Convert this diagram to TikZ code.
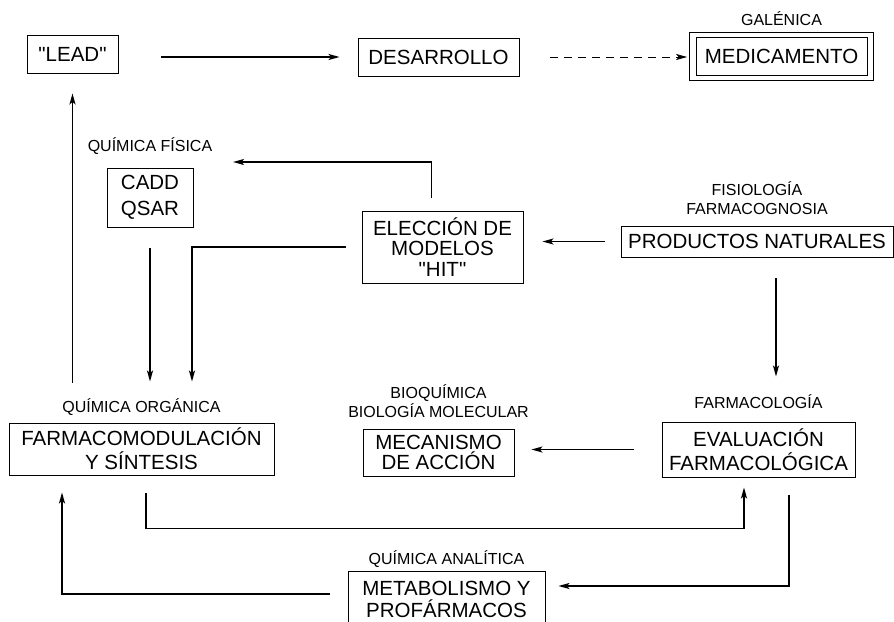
\documentclass[tikz,border=0pt]{standalone}
\usepackage{fontspec}
\setmainfont{Liberation Sans}
\usetikzlibrary{positioning,shapes,fit,arrows.meta,calc}

\begin{document}
\begin{tikzpicture}
  [
      x=1pt, y=-1pt,
      box/.style={draw, line width=0.9pt, align=center, inner sep=0pt, font=\fontsize{20.5}{22}\selectfont},
      lbl/.style={inner sep=0pt, align=center, font=\fontsize{16}{18.5}\selectfont},
      arr/.style={line width=1.7pt, -{Stealth[length=11pt, width=6pt, inset=2.5pt]}},
    ]
    \useasboundingbox (0,0) rectangle (894,621);
    \clip (0,0) rectangle (894,621);

    % boxes
    \node (lead) [box, minimum width=91pt, minimum height=38pt] at (72.5,54) {\textquotedbl LEAD\textquotedbl};
    \node (desarrollo) [box, minimum width=161pt, minimum height=38pt] at (438.5,57) {DESARROLLO};
    \node (medic) [box, minimum width=171pt, minimum height=38pt] at (781.5,56) {MEDICAMENTO};
    \node (medicout) [draw, line width=0.9pt, fit=(medic), inner xsep=6pt, inner ysep=4.5pt] {};
    \node (cadd) [box, minimum width=86pt, minimum height=59pt, font=\fontsize{20.5}{26}\selectfont] at (150,197.5) {CADD\\QSAR};
    \node (eleccion) [box, minimum width=161pt, minimum height=72pt, font=\fontsize{20.5}{20.5}\selectfont] at (442.5,247) {ELECCIÓN DE\\MODELOS\\\textquotedbl HIT\textquotedbl};
    \node (productos) [box, minimum width=272pt, minimum height=31pt] at (757,241.5) {PRODUCTOS NATURALES};
    \node (farmaco) [box, minimum width=265pt, minimum height=52pt, font=\fontsize{20.5}{24}\selectfont] at (141.5,449) {FARMACOMODULACIÓN\\Y SÍNTESIS};
    \node (mecanismo) [box, minimum width=151pt, minimum height=47pt, font=\fontsize{20.5}{20.5}\selectfont] at (438.5,452.5) {MECANISMO\\DE ACCIÓN};
    \node (evaluacion) [box, minimum width=193pt, minimum height=55pt, font=\fontsize{20.5}{24}\selectfont] at (758.5,449.5) {EVALUACIÓN\\FARMACOLÓGICA};
    \node (metabolismo) [box, minimum width=197pt, minimum height=56pt] at (446.5,599) {METABOLISMO Y\\PROFÁRMACOS};

    % labels
    \node (galenica) [lbl, above=6pt of medicout] {GALÉNICA};
    \node (fisica) [lbl, above=13pt of cadd] {QUÍMICA FÍSICA};
    \node (fisio) [lbl, above=11pt of productos] {FISIOLOGÍA\\FARMACOGNOSIA};
    \node (organica) [lbl, above=7pt of farmaco] {QUÍMICA ORGÁNICA};
    \node (bioq) [lbl, above=11pt of mecanismo] {BIOQUÍMICA\\BIOLOGÍA MOLECULAR};
    \node (farmacologia) [lbl, above=13pt of evaluacion] {FARMACOLOGÍA};
    \node (analitica) [lbl, above=3pt of metabolismo] {QUÍMICA ANALÍTICA};

    \coordinate (tofis) at (233,162);

    % connectors
    \draw [arr, shorten <=43pt, shorten >=18pt] (lead.east |- desarrollo.west) -- (desarrollo.west);
    \draw [arr, line width=0.8pt, -{Stealth[length=11pt, width=6pt, inset=2.5pt]}, dash pattern=on 8pt off 6pt, shorten <=31pt, shorten >=2pt] (desarrollo.east) -- (medicout.west |- desarrollo.east);
    \draw [arr, shorten <=13pt] ([xshift=-11pt]eleccion.north) |- (tofis);
    \draw [arr, shorten <=16pt, shorten >=19pt] (productos.west) -- (eleccion.east |- productos.west);
    \draw [arr, shorten <=16pt, shorten >=41pt] (eleccion.west) -| ([xshift=50.5pt]farmaco.north);
    \draw [arr, shorten <=21pt, shorten >=41pt] (cadd.south) -- (cadd.south |- farmaco.north);
    \draw [arr, shorten <=40pt, shorten >=20pt] (lead.south |- farmaco.north) -- (lead.south);
    \draw [arr, shorten <=21pt, shorten >=45pt] ([xshift=19pt]productos.south) -- ([xshift=19pt]productos.south |- evaluacion.north);
    \draw [arr, shorten <=28pt, shorten >=17pt] (evaluacion.west) -- (mecanismo.east |- evaluacion.west);
    \draw [arr, shorten <=18pt, shorten >=10pt] ([xshift=4.5pt]farmaco.south) -- ++(0,53) -| ([xshift=-14.5pt]evaluacion.south);
    \draw [arr, shorten <=18pt, shorten >=13pt] ([xshift=30.5pt]evaluacion.south) |- ([yshift=13pt]metabolismo.east);
    \draw [arr, shorten <=18pt, shorten >=17pt] ([yshift=5pt]metabolismo.west) -| ([xshift=-79.5pt]farmaco.south);
  \end{tikzpicture}
\end{document}
